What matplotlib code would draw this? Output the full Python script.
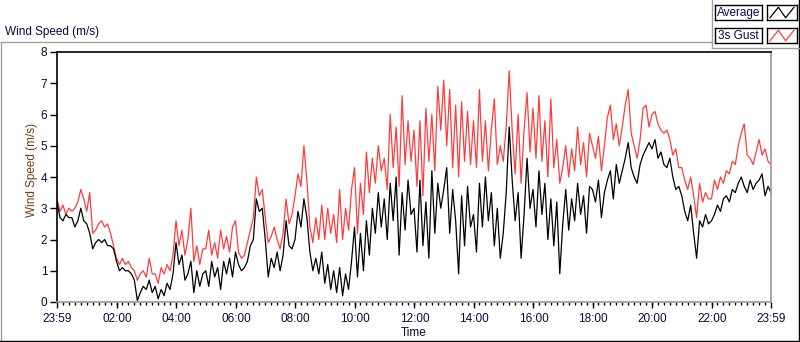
import matplotlib
matplotlib.use("Agg")
import matplotlib.pyplot as plt
import numpy as np
from matplotlib.lines import Line2D

# minutes from 00:00, one reading every 6 min, 23:59 -> 23:59
STEP = 6
START = -1

# Average wind speed (m/s), 10 values per hour
average = [
    3.2, 2.7, 2.6, 2.8, 2.7, 2.7, 2.4, 2.6, 3.0, 2.6,   # 00
    2.5, 2.2, 1.7, 1.9, 2.0, 1.9, 2.0, 1.8, 1.8, 1.7,   # 01
    1.3, 1.0, 1.1, 1.0, 1.0, 0.9, 0.7, 0.05, 0.3, 0.5,  # 02
    0.4, 0.7, 0.3, 0.5, 0.1, 0.4, 0.2, 0.6, 0.4, 0.9,   # 03
    1.9, 1.2, 1.5, 0.7, 0.9, 1.3, 0.3, 1.0, 0.5, 0.9,   # 04
    1.0, 0.5, 1.3, 0.8, 1.1, 0.4, 1.3, 0.9, 1.4, 0.8,   # 05
    1.6, 1.2, 1.0, 1.1, 1.3, 1.8, 2.0, 3.3, 2.9, 3.0,   # 06
    2.0, 0.8, 1.4, 1.1, 1.6, 1.0, 1.5, 2.6, 1.8, 1.7,   # 07
    2.0, 2.9, 2.4, 3.3, 2.7, 1.6, 1.0, 1.4, 0.9, 1.6,   # 08
    0.6, 1.2, 0.4, 1.0, 0.3, 1.1, 0.2, 0.9, 0.4, 1.3,   # 09
    2.4, 0.8, 2.2, 1.0, 2.6, 1.5, 3.0, 2.2, 3.5, 2.4,   # 10
    3.3, 2.0, 3.8, 2.6, 4.0, 1.5, 3.5, 2.3, 3.9, 2.8,   # 11
    3.0, 1.6, 3.9, 1.8, 3.2, 1.4, 4.2, 2.2, 3.8, 3.0,   # 12
    3.6, 4.3, 2.2, 3.6, 2.6, 0.9, 3.4, 1.8, 3.7, 2.4,   # 13
    2.8, 1.6, 3.8, 2.4, 4.0, 2.6, 3.5, 1.8, 3.0, 1.4,   # 14
    2.2, 3.5, 5.6, 3.9, 2.6, 3.5, 1.4, 2.8, 4.6, 3.0,   # 15
    3.6, 2.4, 4.2, 2.8, 3.8, 2.0, 3.3, 1.8, 3.2, 0.9,   # 16
    2.5, 3.6, 2.3, 3.3, 2.6, 3.8, 2.8, 3.4, 2.2, 3.7,   # 17
    3.6, 3.2, 3.9, 2.7, 3.5, 3.9, 4.2, 3.3, 4.4, 3.8,   # 18
    4.2, 4.6, 5.1, 4.3, 4.0, 3.8, 4.4, 4.7, 4.9, 5.1,   # 19
    4.9, 5.2, 4.6, 4.8, 4.4, 4.3, 4.6, 4.0, 3.6, 3.7,   # 20
    3.4, 2.9, 2.6, 3.1, 2.2, 1.4, 2.6, 2.4, 2.8, 2.5,   # 21
    2.6, 2.8, 3.1, 2.9, 3.3, 3.4, 3.2, 3.6, 3.5, 3.8,   # 22
    4.0, 3.7, 3.5, 3.9, 3.6, 3.8, 3.9, 4.1, 3.4, 3.7,   # 23
    3.5,
]

# 3 second gust (m/s)
gust = [
    3.3, 2.9, 3.1, 2.8, 3.0, 2.9, 3.0, 3.2, 3.6, 3.3,   # 00
    2.9, 3.5, 2.2, 2.3, 2.5, 2.6, 2.4, 2.5, 2.2, 1.8,   # 01
    1.4, 1.2, 1.4, 1.2, 1.3, 1.1, 1.0, 0.7, 0.9, 1.0,   # 02
    0.8, 1.4, 0.9, 0.9, 0.6, 1.1, 0.9, 1.2, 1.0, 1.5,   # 03
    2.6, 1.8, 2.3, 1.5, 2.0, 3.0, 1.3, 1.8, 1.2, 1.7,   # 04
    1.7, 2.3, 1.5, 1.9, 1.4, 2.3, 1.7, 2.1, 1.6, 2.4,   # 05
    2.6, 1.6, 1.4, 1.5, 1.9, 2.3, 2.7, 4.0, 3.4, 3.6,   # 06
    2.7, 1.9, 2.1, 2.4, 2.0, 1.7, 2.2, 3.3, 2.5, 2.8,   # 07
    3.4, 4.1, 3.7, 5.0, 3.9, 2.4, 1.9, 2.7, 2.0, 3.1,   # 08
    2.0, 3.0, 2.2, 2.8, 1.9, 3.6, 2.0, 3.0, 2.3, 3.6,   # 09
    4.3, 2.2, 3.8, 2.8, 4.8, 3.5, 4.6, 3.8, 5.0, 4.2,   # 10
    4.6, 3.6, 6.0, 4.3, 5.6, 3.7, 6.6, 4.4, 5.8, 4.5,   # 11
    5.5, 3.7, 5.8, 3.4, 6.2, 4.5, 6.0, 4.2, 6.9, 5.5,   # 12
    7.1, 5.0, 6.8, 4.3, 6.3, 4.0, 6.4, 4.5, 6.1, 4.4,   # 13
    5.8, 4.3, 6.8, 4.5, 5.8, 4.2, 5.5, 6.5, 4.4, 5.0,   # 14
    4.5, 5.6, 7.4, 5.5, 4.1, 6.0, 3.8, 5.5, 6.7, 4.8,   # 15
    6.2, 4.6, 6.6, 4.5, 5.8, 4.0, 6.5, 4.3, 5.2, 3.8,   # 16
    4.3, 5.0, 4.0, 4.9, 4.2, 5.6, 4.4, 5.1, 4.0, 5.4,   # 17
    5.0, 4.6, 5.3, 4.2, 5.0, 5.9, 6.3, 5.2, 5.7, 5.0,   # 18
    5.6, 6.3, 6.8, 5.4, 5.0, 4.6, 5.2, 6.2, 6.3, 5.6,   # 19
    6.0, 6.1, 5.7, 5.5, 5.4, 5.5, 5.2, 4.7, 4.9, 4.3,   # 20
    4.3, 3.9, 3.6, 4.0, 3.4, 2.7, 3.8, 3.2, 3.5, 3.3,   # 21
    3.3, 3.9, 3.6, 4.0, 3.8, 4.2, 4.1, 4.5, 4.4, 5.0,   # 22
    5.4, 5.7, 4.7, 4.6, 4.4, 4.8, 5.2, 4.7, 4.9, 4.5,   # 23
    4.4,
]

tick_minutes = [-1, 120, 240, 360, 480, 600, 720, 840, 960, 1080, 1200, 1320, 1439]
tick_labels = ["23:59", "02:00", "04:00", "06:00", "08:00", "10:00", "12:00",
               "14:00", "16:00", "18:00", "20:00", "22:00", "23:59"]

W, H = 800, 342
TEXT = "#0a0a3c"
plt.rcParams["font.family"] = ["Liberation Sans", "DejaVu Sans"]


def fx(x):
    return x / W


def fy(y):
    return 1 - y / H


def main():
    t = START + STEP * np.arange(len(average))

    fig = plt.figure(figsize=(W / 100, H / 100), dpi=100)
    fig.patch.set_facecolor("white")

    # plot area
    ax = fig.add_axes([fx(57), fy(302), fx(714), 250 / H])
    ax.plot(t, gust, color="#ff3c3c", lw=0.9)
    ax.plot(t, average, color="black", lw=0.9)

    ax.set_xlim(-1, 1439)
    ax.set_ylim(0, 8)
    ax.set_yticks(range(0, 9))
    ax.set_xticks(tick_minutes)
    ax.set_xticklabels(tick_labels)
    ax.set_xticks(np.arange(-1, 1439, 12), minor=True)

    ax.tick_params(axis="y", direction="out", length=5, width=1, pad=2,
                   labelsize=8.5, labelcolor=TEXT)
    ax.tick_params(axis="x", which="major", direction="out", length=4, width=1,
                   pad=4, labelsize=8.5, labelcolor=TEXT)
    ax.tick_params(axis="x", which="minor", direction="out", length=2.5, width=1)

    for side in ["left", "top"]:
        ax.spines[side].set_color("black")
        ax.spines[side].set_linewidth(1.2)
    for side in ["right", "bottom"]:
        ax.spines[side].set_color("#9a9a9a")
        ax.spines[side].set_linewidth(1.2)

    ax.set_ylabel("Wind Speed (m/s)", color="#7a3a0a", fontsize=8.5)
    ax.yaxis.set_label_coords(-0.027, 0.53)
    ax.set_xlabel("Time", color=TEXT, fontsize=8.5)
    ax.xaxis.set_label_coords(0.5, -0.098)

    # title of the graph panel
    fig.text(fx(5), fy(32.5), "Wind Speed (m/s)", fontsize=8.5, color=TEXT,
             ha="left", va="center")

    # panel frame
    gray = "#a0a0a0"
    fig.add_artist(Line2D([fx(0.5), fx(712)], [fy(42), fy(42)], color=gray, lw=1))
    fig.add_artist(Line2D([fx(0.5), fx(0.5)], [fy(42), fy(341)], color=gray, lw=1))
    fig.add_artist(Line2D([fx(0), fx(799)], [fy(341), fy(341)], color="black", lw=1))
    fig.add_artist(Line2D([fx(798.5), fx(798.5)], [fy(0), fy(341)], color="black", lw=1))
    fig.add_artist(Line2D([fx(712), fx(712)], [fy(0), fy(48)], color=gray, lw=1))
    fig.add_artist(Line2D([fx(712), fx(799)], [fy(48), fy(48)], color=gray, lw=1))

    # legend
    rows = [("Average", "black", 5), ("3s Gust", "#ff3c3c", 28)]
    for name, colour, top in rows:
        lab = fig.add_axes([fx(715), fy(top + 15), fx(47), 15 / H])
        lab.set_xticks([])
        lab.set_yticks([])
        for s in lab.spines.values():
            s.set_color("black")
            s.set_linewidth(1)
        lab.text(0.5, 0.48, name, ha="center", va="center", fontsize=8.5,
                 color="#0a0a50", transform=lab.transAxes)

        ico = fig.add_axes([fx(767), fy(top + 15), fx(30), 15 / H])
        ico.set_xticks([])
        ico.set_yticks([])
        for s in ico.spines.values():
            s.set_color("black")
            s.set_linewidth(1)
        ico.plot([0.1, 0.38, 0.62, 0.9], [0.15, 0.85, 0.15, 0.85], color=colour, lw=0.9)
        ico.set_xlim(0, 1)
        ico.set_ylim(0, 1)

    fig.savefig("out.png", dpi=100, facecolor="white")


if __name__ == "__main__":
    main()
